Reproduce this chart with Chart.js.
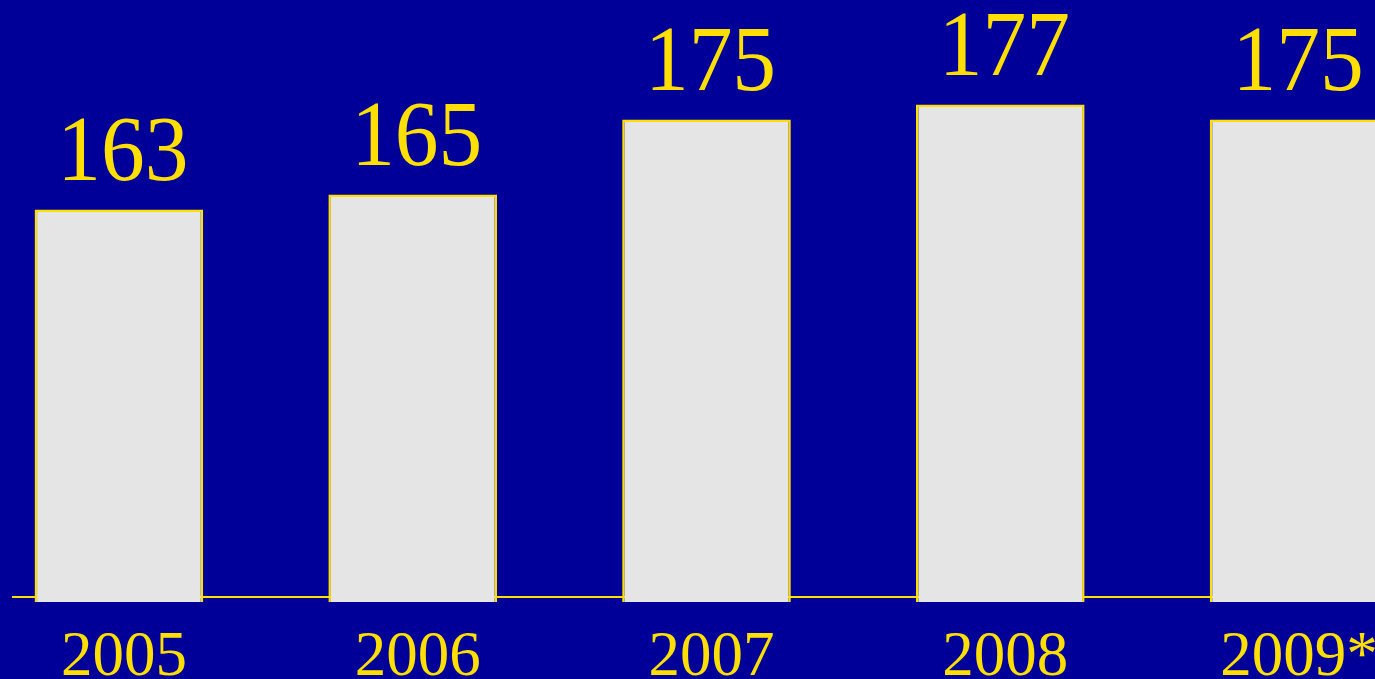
<!DOCTYPE html>
<html>
<head>
<meta charset="utf-8">
<script src="https://cdn.jsdelivr.net/npm/chart.js@4/dist/chart.umd.min.js"></script>
<style>
  html, body { margin: 0; padding: 0; background: #000099; overflow: hidden; width: 1375px; height: 679px; }
  #wrap { position: absolute; left: -28px; top: 0; }
</style>
</head>
<body>
<div id="wrap"><canvas id="chart" width="1469" height="679"></canvas></div>
<script>
const years = ['2005', '2006', '2007', '2008', '2009*'];
const values = [163, 165, 175, 177, 175];

const yellow = '#FFDF00';

// value labels above bars, year labels under the axis, and the thin baseline
const labelsPlugin = {
  id: 'labels',
  beforeDatasetsDraw(chart) {
    const ctx = chart.ctx;
    const area = chart.chartArea;
    ctx.save();
    ctx.strokeStyle = yellow;
    ctx.lineWidth = 2;
    ctx.beginPath();
    ctx.moveTo(40, area.bottom - 5);
    ctx.lineTo(chart.width, area.bottom - 5);
    ctx.stroke();
    ctx.restore();
  },
  afterDatasetsDraw(chart) {
    const ctx = chart.ctx;
    const meta = chart.getDatasetMeta(0);
    const x = chart.scales.x;
    ctx.fillStyle = yellow;
    ctx.textAlign = 'center';
    ctx.textBaseline = 'alphabetic';
    meta.data.forEach((bar, i) => {
      // glyphs in the original are a bit narrower than Liberation Serif
      ctx.save();
      ctx.translate(bar.x + 4, bar.y - 29);
      ctx.scale(0.94, 1);
      ctx.font = '93px "Liberation Serif", "Times New Roman", serif';
      ctx.fillText(String(values[i]), 0, 0);
      ctx.restore();
    });
    ctx.save();
    ctx.font = '63px "Liberation Serif", "Times New Roman", serif';
    years.forEach((y, i) => {
      ctx.fillText(y, x.getPixelForValue(i) + 5, 675);
    });
    ctx.restore();
  }
};

new Chart(document.getElementById('chart'), {
  type: 'bar',
  data: {
    labels: years,
    datasets: [{
      data: values,
      backgroundColor: '#E5E5E5',
      borderColor: yellow,
      borderWidth: 2.5,
      borderSkipped: false,
      barPercentage: 0.574,
      categoryPercentage: 1.0
    }]
  },
  options: {
    responsive: false,
    animation: false,
    devicePixelRatio: 1,
    layout: { padding: { top: 0, bottom: 77, left: 0, right: 0 } },
    plugins: { legend: { display: false }, tooltip: { enabled: false } },
    scales: {
      x: { display: false },
      y: { display: false, min: 110.67, max: 190.93 }
    }
  },
  plugins: [labelsPlugin]
});
</script>
</body>
</html>
